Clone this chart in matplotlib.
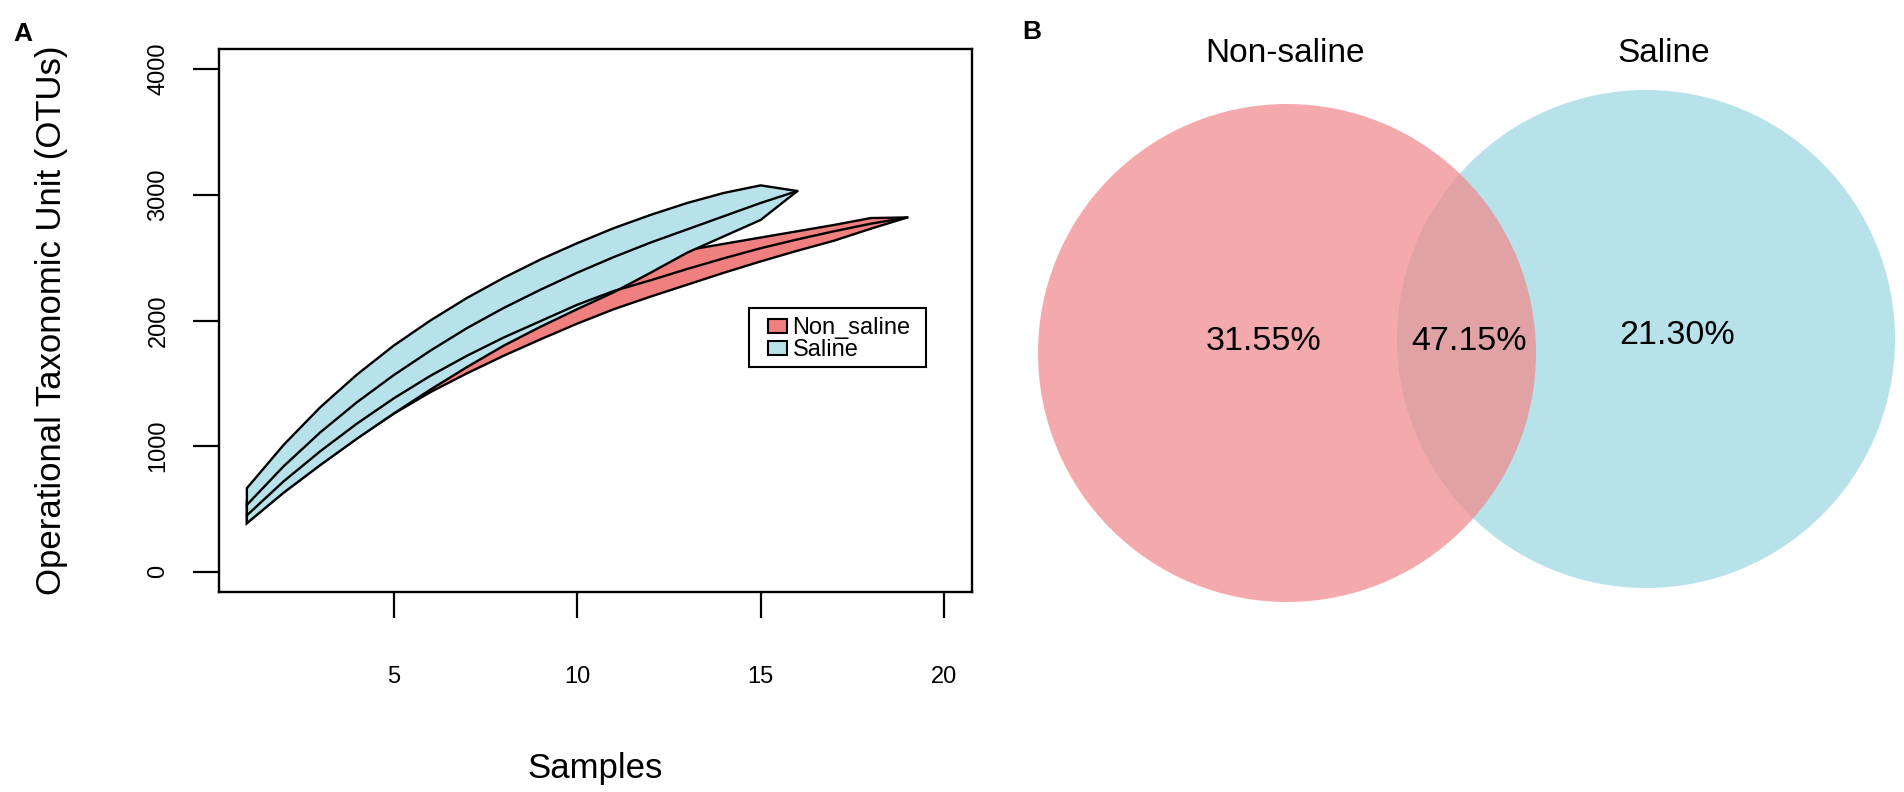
import matplotlib
matplotlib.use("Agg")
import matplotlib.pyplot as plt
from matplotlib.patches import Circle, Rectangle
import numpy as np

plt.rcParams['font.family'] = ['Liberation Sans', 'DejaVu Sans']

# ---------------- data ----------------
saline_x = list(range(1, 17))
saline_upper = [666, 1010, 1310, 1570, 1800, 2000, 2180, 2340, 2485, 2615,
                2735, 2840, 2935, 3015, 3075, 3030]
saline_mid = [533, 840, 1110, 1350, 1565, 1760, 1940, 2100, 2245, 2380,
              2505, 2620, 2725, 2830, 2935, 3030]
saline_lower = [387, 630, 850, 1060, 1260, 1450, 1630, 1800, 1950, 2090,
                2225, 2380, 2540, 2670, 2800, 3030]

nonsaline_x = list(range(1, 20))
nonsaline_upper = [560, 860, 1120, 1350, 1550, 1730, 1890, 2030, 2160, 2280,
                   2390, 2490, 2560, 2610, 2660, 2710, 2760, 2815, 2820]
nonsaline_mid = [450, 720, 960, 1180, 1380, 1560, 1720, 1865, 1995, 2125,
                 2235, 2320, 2410, 2495, 2575, 2645, 2710, 2770, 2820]
nonsaline_lower = [390, 632, 852, 1062, 1258, 1430, 1580, 1720, 1850, 1975,
                   2090, 2190, 2285, 2380, 2470, 2555, 2635, 2730, 2820]

legend_labels = ["Non_saline", "Saline"]
x_ticks = [5, 10, 15, 20]
y_ticks = [0, 1000, 2000, 3000, 4000]

venn_names = ["Non-saline", "Saline"]
venn_pcts = ["31.55%", "47.15%", "21.30%"]

col_ns = "#F08080"
col_s = "#B8E2EA"

W, H = 1904, 792
fig = plt.figure(figsize=(W / 100, H / 100), dpi=100)

# ---------------- panel A ----------------
L, R, T, B = 219, 972, 49, 592
ax = fig.add_axes([L / W, 1 - B / H, (R - L) / W, (B - T) / H])


def band(ax, x, up, mid, lo, color):
    x = np.asarray(x, float)
    px = np.concatenate([x, x[::-1]])
    py = np.concatenate([np.asarray(up, float), np.asarray(lo, float)[::-1]])
    ax.fill(px, py, facecolor=color, edgecolor="black", linewidth=1.7,
            joinstyle="miter")
    ax.plot(x, mid, color="black", linewidth=1.7)


band(ax, nonsaline_x, nonsaline_upper, nonsaline_mid, nonsaline_lower, col_ns)
band(ax, saline_x, saline_upper, saline_mid, saline_lower, col_s)

ax.set_xlim(1 - 0.04 * 19, 20 + 0.04 * 19)
ax.set_ylim(-160, 4160)
ax.set_xticks(x_ticks)
ax.set_yticks(y_ticks)
ax.set_xticklabels([str(v) for v in x_ticks])
ax.set_yticklabels([str(v) for v in y_ticks], rotation=90, va="center")
for s in ax.spines.values():
    s.set_linewidth(1.7)
ax.tick_params(axis="both", direction="out", length=18.7, width=1.6,
               labelsize=17)
ax.tick_params(axis="x", pad=34.5)
ax.tick_params(axis="y", pad=17)
ax.set_xlabel("Samples", fontsize=25, labelpad=46)
ax.set_ylabel("Operational Taxonomic Unit (OTUs)", fontsize=25, labelpad=57)


# legend drawn in axes-fraction coordinates (converted from pixel layout)
def fx(px):
    return (px - L) / (R - L)


def fy(py):
    return (B - py) / (B - T)


ax.add_patch(Rectangle((fx(749), fy(367)), fx(926) - fx(749), fy(308) - fy(367),
                       transform=ax.transAxes, facecolor="white",
                       edgecolor="black", linewidth=1.5, zorder=5))
for i, (lab, col) in enumerate(zip(legend_labels, [col_ns, col_s])):
    top = 318.5 + i * 22.4
    ax.add_patch(Rectangle((fx(768), fy(top + 14.5)), fx(787) - fx(768),
                           fy(top) - fy(top + 14.5), transform=ax.transAxes,
                           facecolor=col, edgecolor="black", linewidth=1.5,
                           zorder=6))
    ax.text(fx(792.5), fy(333.5 + i * 22.4), lab, transform=ax.transAxes,
            fontsize=17, ha="left", va="baseline", zorder=7)

fig.text(23 / W, 1 - 34 / H, "A", fontsize=19, fontweight="bold",
         ha="center", va="center")

# ---------------- panel B (Venn) ----------------
ax2 = fig.add_axes([1000 / W, 0, 904 / W, 1])
ax2.set_xlim(1000, 1904)
ax2.set_ylim(792, 0)
ax2.axis("off")
ax2.add_patch(Circle((1646, 339), 249, facecolor=col_s, edgecolor="none"))
ax2.add_patch(Circle((1287, 353), 249, facecolor="#F18B8D", alpha=0.73,
                     edgecolor="none"))
ax2.text(1285, 53, venn_names[0], fontsize=24, ha="center", va="center")
ax2.text(1664, 53, venn_names[1], fontsize=24, ha="center", va="center")
ax2.text(1264, 342, venn_pcts[0], fontsize=24.5, ha="center", va="center")
ax2.text(1469, 342, venn_pcts[1], fontsize=24.5, ha="center", va="center")
ax2.text(1677, 335, venn_pcts[2], fontsize=24.5, ha="center", va="center")

fig.text(1032 / W, 1 - 32 / H, "B", fontsize=19, fontweight="bold",
         ha="center", va="center")

fig.savefig("out.png", dpi=100)
